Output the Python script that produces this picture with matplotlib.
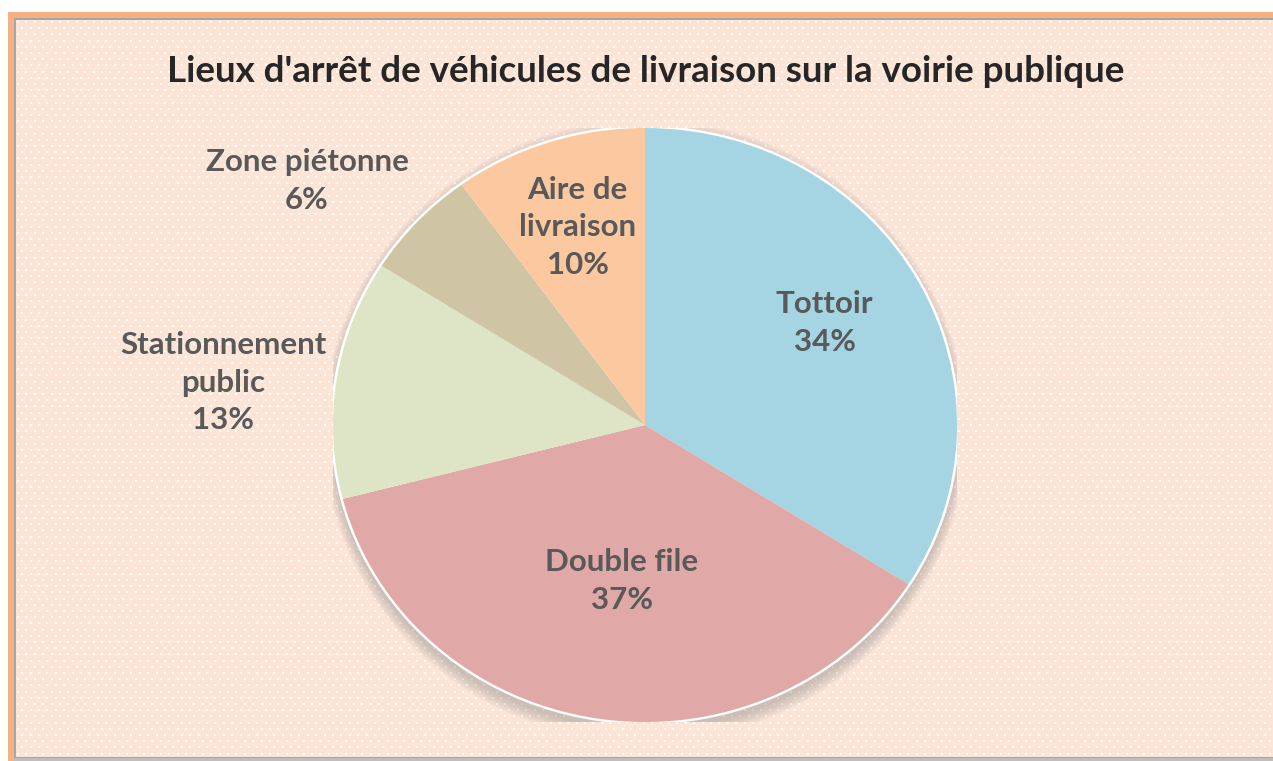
import matplotlib.pyplot as plt
import numpy as np
from matplotlib.patches import Rectangle, Ellipse

# -- data --
labels = ["Tottoir", "Double file", "Stationnement\npublic", "Zone piétonne", "Aire de\nlivraison"]
shares = [34, 37, 13, 6, 10]
colors = ["#A5D5E2", "#E0A8A6", "#DDE5C6", "#CFC5A5", "#FBC8A0"]
title = "Lieux d'arrêt de véhicules de livraison sur la voirie publique"

# label placement (fraction of radius, angle nudge in degrees)
label_r = [0.67, 0.53, 1.36, 1.36, 0.70]
label_nudge = [2, 1, 3, 6, 0]

W, H = 1273, 761
fig = plt.figure(figsize=(W / 100, H / 100), dpi=100)
fig.patch.set_facecolor("white")

# -- frame and dotted background --
bg = fig.add_axes([0, 0, 1, 1])
bg.set_xlim(0, W)
bg.set_ylim(H, 0)
bg.axis("off")
bg.add_patch(Rectangle((8, 12), W + 20, H + 20, facecolor="#F4B183", edgecolor="none"))
bg.add_patch(Rectangle((14, 18), W + 20, 740 - 18 + 20, facecolor="#A6A6A6", edgecolor="none"))
bg.add_patch(Rectangle((15.5, 19.5), W + 20, 737 - 19.5 + 20, facecolor="#FCE4D6", edgecolor="none"))
bg.add_patch(Rectangle((14, 758), W + 20, 10, facecolor="#BFBFBF", edgecolor="none"))
xs, ys = [], []
for i, yy in enumerate(np.arange(22, 757, 6.2)):
    off = 0 if i % 2 == 0 else 4.2
    for xx in np.arange(18 + off, W, 8.4):
        xs.append(xx)
        ys.append(yy)
bg.scatter(xs, ys, s=2.2, marker="s", color="white", linewidths=0, alpha=0.9)

fig.text(646 / W, 1 - 72 / H, title, ha="center", va="center",
         fontsize=26.5, fontweight="bold", color="#262626", family="Lato")

# -- pie --
cx, cy, rx, ry = 645, 425, 312, 297
ax = fig.add_axes([(cx - rx) / W, 1 - (cy + ry) / H, 2 * rx / W, 2 * ry / H])
ax.axis("off")

# soft shadow behind the pie, heavier towards the bottom
for k in range(8):
    ax.add_patch(Ellipse((0, -0.02), 2 + 0.008 * (8 - k), 2 + 0.012 * (8 - k),
                         facecolor="#7F7F7F", edgecolor="none", alpha=0.05, zorder=0))
ax.add_patch(Ellipse((0, 0), 2.016, 2.016, facecolor="white", edgecolor="none", zorder=0.5))

wedges, _ = ax.pie(shares, colors=colors, startangle=90, counterclock=False,
                   radius=1, wedgeprops=dict(linewidth=0))
for w in wedges:
    w.set_zorder(1)
ax.set_aspect("auto")
ax.set_xlim(-1, 1)
ax.set_ylim(-1, 1)

for w, lab, val, r, nd in zip(wedges, labels, shares, label_r, label_nudge):
    ang = np.deg2rad((w.theta1 + w.theta2) / 2 + nd)
    ax.text(r * np.cos(ang), r * np.sin(ang), f"{lab}\n{val}%", ha="center", va="center",
            fontsize=22.5, fontweight="bold", color="#595959", family="Lato",
            linespacing=1.42, zorder=3, clip_on=False)

fig.savefig("out.png", dpi=100)
